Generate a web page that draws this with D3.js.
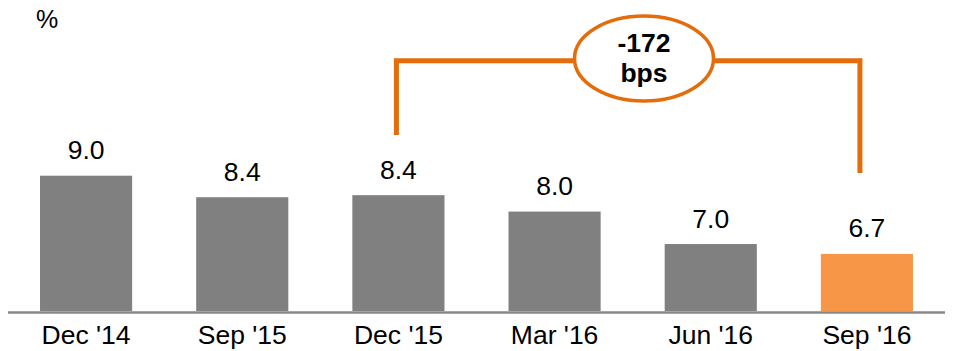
<!DOCTYPE html>
<html>
<head>
<meta charset="utf-8">
<script src="https://cdn.jsdelivr.net/npm/d3@7"></script>
<style>
  html, body { margin: 0; padding: 0; background: #fff; }
  svg { display: block; font-family: Arial, "Liberation Sans", sans-serif; }
</style>
</head>
<body>
<svg id="chart" width="955" height="351"></svg>
<script>
const categories = ["Dec '14", "Sep '15", "Dec '15", "Mar '16", "Jun '16", "Sep '16"];
const values = [9.0, 8.37, 8.43, 7.95, 7.0, 6.71];
const highlight = ["Sep '16"];
const unitLabel = "%";
const changeLabel = ["-172", "bps"];
const changeFrom = "Dec '15";
const changeTo = "Sep '16";

const svg = d3.select("#chart");
const baseY = 311;

const x = d3.scaleBand().domain(categories).range([8, 945]).paddingInner(0.41).paddingOuter(0.205);
const y = d3.scaleLinear().domain([5.04, 9.0]).range([baseY, 175.7]);

const data = categories.map((c, i) => ({ c, v: values[i] }));

// bars
svg.append("g").selectAll("rect").data(data).join("rect")
  .attr("x", d => x(d.c))
  .attr("y", d => y(d.v))
  .attr("width", x.bandwidth())
  .attr("height", d => baseY - y(d.v))
  .attr("fill", d => highlight.includes(d.c) ? "#F79646" : "#808080");

// value labels
svg.append("g").selectAll("text").data(data).join("text")
  .attr("x", d => x(d.c) + x.bandwidth() / 2)
  .attr("y", d => y(d.v) - 16.5)
  .attr("text-anchor", "middle")
  .attr("font-size", 26.5)
  .attr("fill", "#000")
  .text(d => d3.format(".1f")(d.v));

// x axis
const xAxis = d3.axisBottom(x).tickSize(0).tickPadding(13);
const gx = svg.append("g").attr("transform", `translate(0,${baseY + 1.5})`).call(xAxis);
gx.select(".domain").attr("stroke", "#888").attr("stroke-width", 2.5).attr("d", "M8,0H945");
gx.selectAll(".tick text").attr("font-size", 26.5).attr("font-family", "Arial, 'Liberation Sans', sans-serif").attr("fill", "#000").attr("dy", "0.71em");

// unit
svg.append("text").attr("x", 36).attr("y", 27.5).attr("font-size", 25).attr("fill", "#000").text(unitLabel);

// bracket
const xL = x(changeFrom) + x.bandwidth() / 2 - 2;
const xR = x(changeTo) + x.bandwidth() / 2 - 7;
const topY = 60.8;
const orange = "#E46C0A";
svg.append("path")
  .attr("d", `M${xL},135V${topY}H${xR}V173`)
  .attr("fill", "none")
  .attr("stroke", orange)
  .attr("stroke-width", 5);

const cx = 644, cy = 58.5;
svg.append("ellipse")
  .attr("cx", cx).attr("cy", cy).attr("rx", 69.5).attr("ry", 42.5)
  .attr("fill", "#fff").attr("stroke", orange).attr("stroke-width", 3.5);

svg.append("g").selectAll("text").data(changeLabel).join("text")
  .attr("x", cx)
  .attr("y", (d, i) => i === 0 ? 51.7 : 81.5)
  .attr("text-anchor", "middle")
  .attr("font-size", 26.5)
  .attr("font-weight", "bold")
  .attr("fill", "#000")
  .text(d => d);
</script>
</body>
</html>
